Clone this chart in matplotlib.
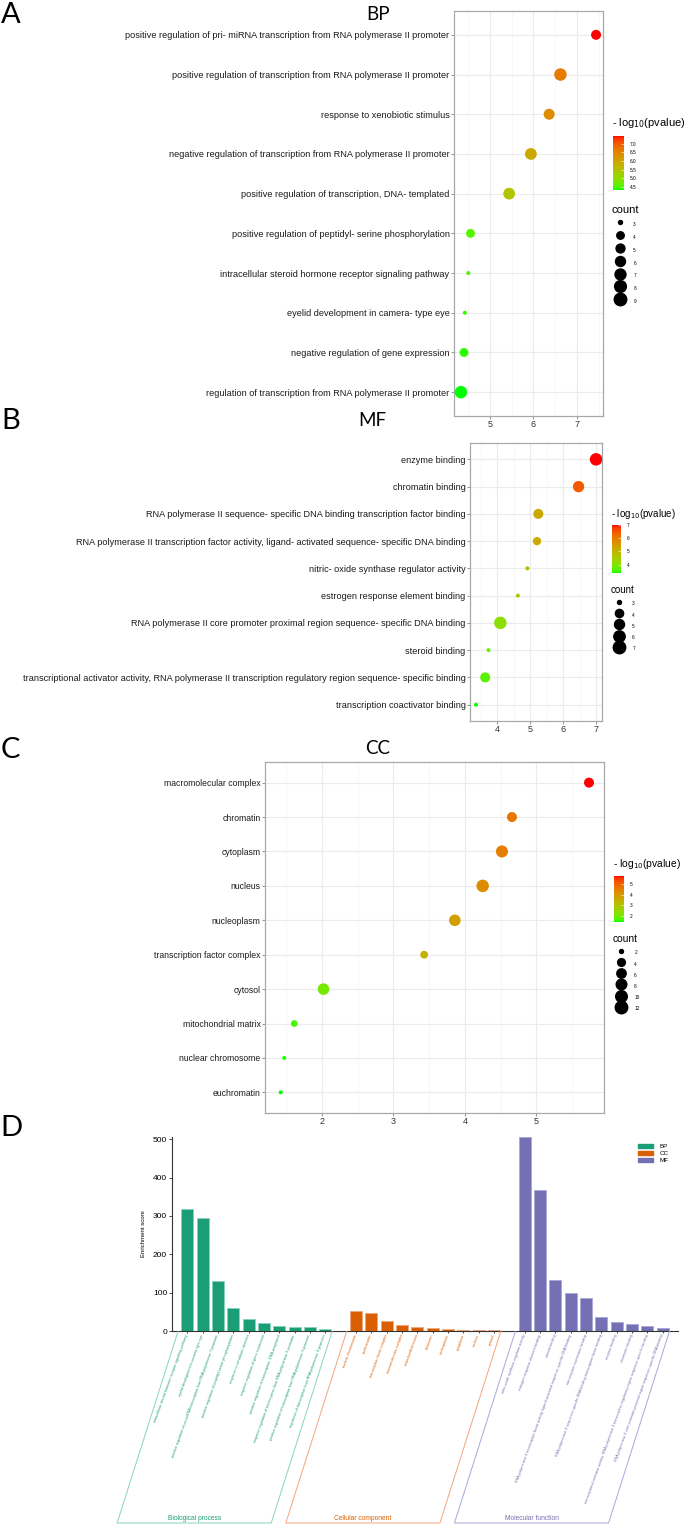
"""
    go_enrichment_figure

    Four-panel GO enrichment figure: BP / MF / CC bubble plots and a bar chart.

"""

import numpy as np
import matplotlib.pyplot as plt
from matplotlib.cm import ScalarMappable
from matplotlib.colors import LinearSegmentedColormap, Normalize
from matplotlib.lines import Line2D
from matplotlib.patches import Patch, Polygon

plt.rcParams["font.family"] = ["Liberation Sans", "DejaVu Sans"]

# ---------------- data ----------------
bp_terms = [
    "positive regulation of pri- miRNA transcription from RNA polymerase II promoter",
    "positive regulation of transcription from RNA polymerase II promoter",
    "response to xenobiotic stimulus",
    "negative regulation of transcription from RNA polymerase II promoter",
    "positive regulation of transcription, DNA- templated",
    "positive regulation of peptidyl- serine phosphorylation",
    "intracellular steroid hormone receptor signaling pathway",
    "eyelid development in camera- type eye",
    "negative regulation of gene expression",
    "regulation of transcription from RNA polymerase II promoter",
]
bp_logp = [7.44, 6.62, 6.36, 5.94, 5.44, 4.55, 4.50, 4.42, 4.40, 4.33]
bp_count = [6, 9, 7, 8, 8, 5, 3, 3, 5, 9]

mf_terms = [
    "enzyme binding",
    "chromatin binding",
    "RNA polymerase II sequence- specific DNA binding transcription factor binding",
    "RNA polymerase II transcription factor activity, ligand- activated sequence- specific DNA binding",
    "nitric- oxide synthase regulator activity",
    "estrogen response element binding",
    "RNA polymerase II core promoter proximal region sequence- specific DNA binding",
    "steroid binding",
    "transcriptional activator activity, RNA polymerase II transcription regulatory region sequence- specific binding",
    "transcription coactivator binding",
]
mf_logp = [7.00, 6.47, 5.25, 5.21, 4.92, 4.63, 4.10, 3.74, 3.64, 3.36]
mf_count = [7, 6, 5, 4, 3, 3, 7, 3, 5, 3]

cc_terms = [
    "macromolecular complex", "chromatin", "cytoplasm", "nucleus", "nucleoplasm",
    "transcription factor complex", "cytosol", "mitochondrial matrix",
    "nuclear chromosome", "euchromatin",
]
cc_logp = [5.74, 4.66, 4.52, 4.25, 3.86, 3.43, 2.02, 1.61, 1.47, 1.42]
cc_count = [7, 7, 11, 12, 10, 4, 10, 3, 2, 2]

# panel D: enrichment scores
bp_bar_terms = [
    "intracellular steroid hormone receptor signaling pathway",
    "eyelid development in camera-type eye",
    "positive regulation of pri-miRNA transcription from RNA polymerase II promoter",
    "positive regulation of peptidyl-serine phosphorylation",
    "response to xenobiotic stimulus",
    "negative regulation of gene expression",
    "positive regulation of transcription, DNA-templated",
    "negative regulation of transcription from RNA polymerase II promoter",
    "positive regulation of transcription from RNA polymerase II promoter",
    "regulation of transcription from RNA polymerase II promoter",
]
bp_score = [319, 296, 130, 59, 31, 22, 13, 10.5, 9.6, 5.2]

cc_bar_terms = [
    "nuclear chromosome", "euchromatin", "transcription factor complex",
    "macromolecular complex", "mitochondrial matrix", "chromatin",
    "nucleoplasm", "cytoplasm", "nucleus", "cytosol",
]
cc_score = [53, 48, 25, 15, 10.5, 8.7, 4.4, 3.5, 3.5, 3.0]

mf_bar_terms = [
    "nitric-oxide synthase regulator activity",
    "estrogen response element binding",
    "steroid binding",
    "RNA polymerase II transcription factor activity, ligand-activated sequence-specific DNA binding",
    "transcription coactivator binding",
    "RNA polymerase II sequence-specific DNA binding transcription factor binding",
    "enzyme binding",
    "chromatin binding",
    "transcriptional activator activity, RNA polymerase II transcription regulatory region sequence-specific binding",
    "RNA polymerase II core promoter proximal region sequence-specific DNA binding",
]
mf_score = [506, 368, 134, 99, 87, 36.6, 24.4, 19, 13, 7]

group_names = ["Biological process", "Cellular component", "Molecular function"]
group_keys = ["BP", "CC", "MF"]
group_colors = ["#1B9E77", "#D95F02", "#7570B3"]
group_light = ["#86D5BA", "#F3A67C", "#A9A7DA"]


# ---------------- colour scale: green -> red interpolated in Lab ----------------
M = np.array([[0.4124, 0.3576, 0.1805],
              [0.2126, 0.7152, 0.0722],
              [0.0193, 0.1192, 0.9505]])
WHITE = np.array([0.95047, 1.0, 1.08883])


def to_lab(rgb):
    c = np.asarray(rgb, float)
    lin = np.where(c <= 0.04045, c / 12.92, ((c + 0.055) / 1.055) ** 2.4)
    xyz = M @ lin / WHITE
    f = np.where(xyz > 216 / 24389, np.cbrt(xyz), (24389 / 27 * xyz + 16) / 116)
    return np.array([116 * f[1] - 16, 500 * (f[0] - f[1]), 200 * (f[1] - f[2])])


def from_lab(lab):
    fy = (lab[0] + 16) / 116
    f = np.array([fy + lab[1] / 500, fy, fy - lab[2] / 200])
    xyz = np.where(f ** 3 > 216 / 24389, f ** 3, (116 * f - 16) / (24389 / 27)) * WHITE
    lin = np.clip(np.linalg.solve(M, xyz), 0, 1)
    return np.clip(np.where(lin <= 0.0031308, 12.92 * lin, 1.055 * lin ** (1 / 2.4) - 0.055), 0, 1)


lab_lo, lab_hi = to_lab([0, 1, 0]), to_lab([1, 0, 0])
cmap = LinearSegmentedColormap.from_list(
    "green_red", [from_lab(lab_lo + (lab_hi - lab_lo) * t) for t in np.linspace(0, 1, 64)])

# ---------------- figure ----------------
W, H = 685, 1529
fig = plt.figure(figsize=(W / 100, H / 100), dpi=100)


def rect(left, top, right, bottom):
    return [left / W, 1 - bottom / H, (right - left) / W, (bottom - top) / H]


def fxy(x, y):
    return x / W, 1 - y / H


def diam(c, lo, hi):
    # ggplot-like area scaling, returned in points
    t = (np.asarray(c, float) - lo) / (hi - lo)
    return (4.0 + 8.5 * np.sqrt(t)) * 0.72


def dot_panel(box, terms, logp, count, xlim, major, minor, fs):
    ax = fig.add_axes(rect(*box))
    n = len(terms)
    ypos = np.arange(n, 0, -1)
    norm = Normalize(min(logp), max(logp))
    lo, hi = min(count), max(count)
    ax.scatter(logp, ypos, s=diam(count, lo, hi) ** 2, c=logp, cmap=cmap, norm=norm,
               linewidths=0, zorder=3)
    ax.set_xlim(xlim)
    ax.set_ylim(0.4, n + 0.6)
    ax.set_yticks(ypos)
    ax.set_yticklabels(terms, fontsize=fs, color="#1a1a1a")
    ax.set_xticks(major)
    ax.set_xticks(minor, minor=True)
    ax.grid(which="major", color="#EBEBEB", lw=0.8)
    ax.grid(which="minor", axis="x", color="#F4F4F4", lw=0.5)
    ax.set_axisbelow(True)
    for s in ax.spines.values():
        s.set_color("#A8A8A8")
        s.set_linewidth(0.9)
    ax.tick_params(axis="both", which="major", length=2, width=0.5, color="#666666", pad=1.2)
    ax.tick_params(axis="x", which="minor", length=0)
    ax.tick_params(axis="x", labelsize=6.5, labelcolor="#333333")
    return norm, lo, hi


def side_legends(norm, lo, hi, cticks, cfmt, shown, title_at, cbar_box,
                 count_title_at, first_row, pitch, tfs):
    fig.text(*fxy(*title_at), r"- log$_{10}$(pvalue)", fontsize=tfs, va="center", ha="left")
    cax = fig.add_axes(rect(*cbar_box))
    cb = fig.colorbar(ScalarMappable(norm, cmap), cax=cax, ticks=cticks, format=cfmt)
    cb.outline.set_visible(False)
    cax.tick_params(labelsize=3.4, length=2, width=0.4, color="white", direction="in", pad=4)
    fig.text(*fxy(*count_title_at), "count", fontsize=tfs, va="center", ha="left")
    handles = [Line2D([], [], ls="", marker="o", color="black", markersize=d)
               for d in diam(shown, lo, hi)]
    fs = 3.4
    # legend row height is fs * (0.65 * handleheight + 0.245) points
    hh = (pitch * 0.72 / fs - 0.245) / 0.65
    fig.legend(handles, [str(c) for c in shown], loc="upper left",
               bbox_to_anchor=fxy(count_title_at[0], first_row - pitch / 2),
               frameon=False, fontsize=fs, handlelength=3.2,
               handleheight=hh, labelspacing=0,
               handletextpad=1.3, borderpad=0, borderaxespad=0)


# A: BP
norm, lo, hi = dot_panel((454, 11, 603, 416), bp_terms, bp_logp, bp_count,
                         (4.17, 7.6), [5, 6, 7], [4.5, 5.5, 6.5, 7.5], 6.6)
side_legends(norm, lo, hi, [4.5, 5.0, 5.5, 6.0, 6.5, 7.0], "%.1f", list(range(3, 10)),
             (612, 123), (613, 136, 624, 190), (612, 210), 225, 12.8, 8)

# B: MF
norm, lo, hi = dot_panel((470, 443, 602, 721), mf_terms, mf_logp, mf_count,
                         (3.18, 7.18), [4, 5, 6, 7], [3.5, 4.5, 5.5, 6.5], 6.6)
side_legends(norm, lo, hi, [4, 5, 6, 7], "%d", [3, 4, 5, 6, 7],
             (611, 514), (612, 525, 621, 573), (611, 590), 604, 11.25, 7)

# C: CC
norm, lo, hi = dot_panel((265, 762, 604, 1113), cc_terms, cc_logp, cc_count,
                         (1.2, 5.95), [2, 3, 4, 5], [1.5, 2.5, 3.5, 4.5, 5.5], 6.25)
side_legends(norm, lo, hi, [2, 3, 4, 5], "%d", [2, 4, 6, 8, 10, 12],
             (613, 864), (614, 876, 624, 922), (613, 939), 953, 11.2, 7.4)

# panel titles and letters
for label, xy in [("BP", (378, 14)), ("MF", (372, 421)), ("CC", (378, 748))]:
    fig.text(*fxy(*xy), label, fontsize=13.5, family="Lato", ha="center", va="center")
for label, xy in [("A", (11, 15)), ("B", (11, 421)), ("C", (10, 750)), ("D", (11, 1128))]:
    fig.text(*fxy(*xy), label, fontsize=21, family="Lato", ha="center", va="center")

# D: bar chart of enrichment scores
axd = fig.add_axes(rect(172, 1137, 678, 1331))
scores = [bp_score, cc_score, mf_score]
bar_terms = [bp_bar_terms, cc_bar_terms, mf_bar_terms]
positions = []
start = 0
for g in range(3):
    pos = np.arange(start, start + len(scores[g]))
    positions.append(pos)
    axd.bar(pos, scores[g], width=0.8, color=group_colors[g], edgecolor=group_light[g],
            linewidth=0.6, label=group_keys[g])
    start += len(scores[g]) + 1

axd.set_xlim(-1, start - 1)
axd.set_ylim(0, 506)
axd.set_yticks([0, 100, 200, 300, 400, 500])
axd.set_xticks(np.concatenate(positions))
axd.set_xticklabels(sum(bar_terms, []), rotation=70, ha="right", va="center",
                    rotation_mode="anchor", fontsize=2.7)
for lab, g in zip(axd.get_xticklabels(), np.repeat(range(3), 10)):
    lab.set_color(group_colors[g])
axd.spines[["top", "right"]].set_visible(False)
for s in ("left", "bottom"):
    axd.spines[s].set_color("#333333")
    axd.spines[s].set_linewidth(0.8)
axd.tick_params(axis="x", length=1.5, width=0.5, pad=1)
axd.tick_params(axis="y", length=2, width=0.5, pad=1.5, labelsize=6)
axd.set_ylabel("Enrichment score", fontsize=4.3, labelpad=5)
axd.legend(handles=[Patch(color=c) for c in group_colors], labels=group_keys,
           loc="upper right", bbox_to_anchor=fxy(674, 1138), bbox_transform=fig.transFigure,
           frameon=False, fontsize=4.5, handlelength=2.5, handleheight=0.7,
           labelspacing=0.25, handletextpad=1.0)

# group brackets below the x axis
y_axis = axd.transData.transform((0, 0))[1]
for g in range(3):
    x0 = axd.transData.transform((positions[g][0] - 0.6, 0))[0]
    x1 = axd.transData.transform((positions[g][-1] + 0.45, 0))[0]
    drop, shift = 192, 61
    pts = np.array([[x0, y_axis], [x0 - shift, y_axis - drop],
                    [x1 - shift, y_axis - drop], [x1, y_axis]]) / [W, H]
    fig.add_artist(Polygon(pts, closed=False, fill=False, edgecolor=group_light[g],
                           linewidth=0.7, transform=fig.transFigure))
    fig.text((x0 + x1) / 2 / W - shift / W, (y_axis - drop + 1) / H, group_names[g],
             fontsize=4.8, color=group_colors[g], ha="center", va="bottom")

fig.savefig("out.png", dpi=100)
